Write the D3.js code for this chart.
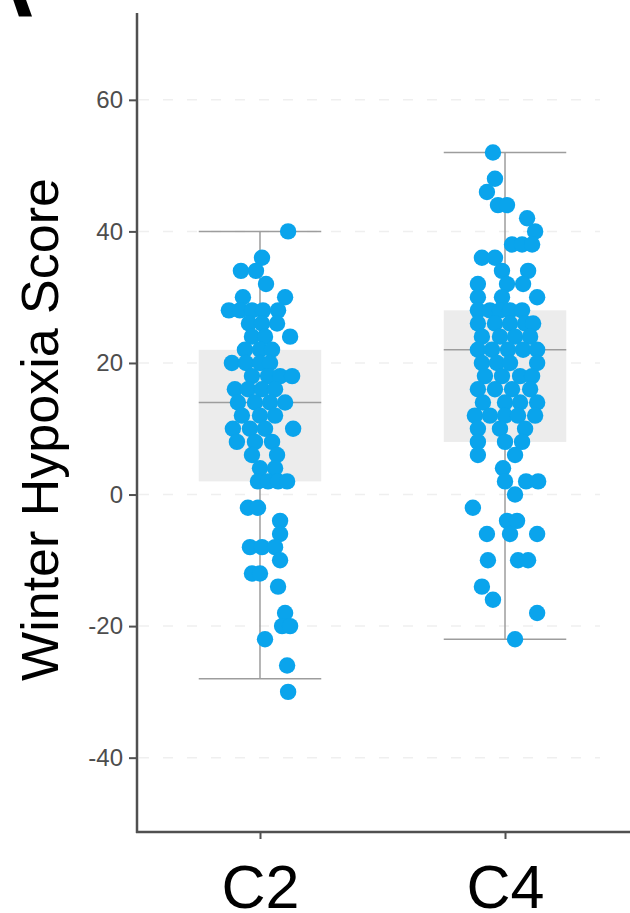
<!DOCTYPE html>
<html>
<head>
<meta charset="utf-8">
<script src="https://cdn.jsdelivr.net/npm/d3@7"></script>
<style>
  html, body { margin: 0; padding: 0; background: #fff; }
  svg { display: block; }
</style>
</head>
<body>
<svg id="chart" width="630" height="913"></svg>
<script>
// ---------------- data ----------------
const categories = ["C2", "C4"];
const yTickValues = [-40, -20, 0, 20, 40, 60];
const yTitle = "Winter Hypoxia Score";

// box statistics per category
const medians = [14, 22];
const q1s = [2, 8];
const q3s = [22, 28];
const whiskerLows = [-28, -22];
const whiskerHighs = [40, 52];

// individual scores (jitter: horizontal spread, +-61 = box edge)
const c2Values = [40,36,34,34,32,30,30,28,28,28,28,28,26,26,26,24,24,24,22,22,22,20,20,20,20,18,18,18,18,16,16,16,16,14,14,14,14,12,12,12,10,10,10,10,8,8,8,6,6,4,4,2,2,2,2,-2,-2,-4,-6,-8,-8,-8,-10,-12,-12,-14,-18,-20,-20,-22,-26,-30];
const c2Jitter = [28,2,-19,-4,6,-17,25,-31,-20,-8,3,18,-11,2,17,-8,5,30,-15,0,12,-28,-14,0,10,-8,8,20,32,-25,-12,2,15,-22,-5,10,25,-18,0,15,-27,-10,5,33,-23,-5,12,-8,17,0,15,-2,8,18,27,-12,-2,20,20,-10,2,15,20,-8,0,18,25,22,30,5,27,28];
const c4Values = [52,48,46,44,44,42,40,38,38,38,36,36,34,34,32,32,32,30,30,30,28,28,28,28,28,26,26,26,26,26,24,24,24,24,22,22,22,22,22,20,20,20,20,18,18,18,18,16,16,16,16,14,14,14,14,12,12,12,12,12,10,10,10,8,8,8,6,6,4,2,2,2,0,-2,-4,-4,-6,-6,-6,-10,-10,-10,-14,-16,-18,-22];
const c4Jitter = [-12,-10,-18,-7,2,22,30,7,17,27,-23,-10,-3,23,-27,2,18,-27,-3,32,-27,-15,-5,5,17,-27,-10,5,20,28,-23,-5,10,25,-27,-13,3,18,32,-23,-8,5,32,-20,-3,15,27,-27,-10,7,25,-22,0,15,32,-30,-15,0,13,30,-27,-5,20,-27,0,17,-27,10,-2,0,21,33,10,-32,2,12,-18,5,32,-17,13,23,-23,-12,32,10];

// ---------------- layout ----------------
const W = 630, H = 913;
const mLeft = 137, mRight = 628, mTop = 13, mBottom = 832;
const pointColor = "#0aa4ec";
const boxFill = "#ececec";
const lineGray = "#9d9d9d";
const axisColor = "#505050";

const svg = d3.select("#chart");

const y = d3.scaleLinear().domain([-51.3, 73.2]).range([mBottom, mTop]);
const x = d3.scalePoint().domain(categories).range([mLeft, mRight]).padding(0.502);
const boxHalf = x.step() * 0.25;
const jit = d3.scaleLinear().domain([-61, 61]).range([-boxHalf, boxHalf]);

const points = [
  ...c2Values.map((v, i) => ({ cat: "C2", v, j: c2Jitter[i] })),
  ...c4Values.map((v, i) => ({ cat: "C4", v, j: c4Jitter[i] }))
];
const stats = categories.map((c, i) => ({
  cat: c, med: medians[i], q1: q1s[i], q3: q3s[i], lo: whiskerLows[i], hi: whiskerHighs[i]
}));

// panel letter (cropped by the top edge)
svg.append("text")
  .attr("x", -32).attr("y", 16)
  .attr("font-family", "Liberation Sans, Arial, sans-serif")
  .attr("font-weight", "bold")
  .attr("font-size", 92)
  .attr("fill", "#000")
  .text("A");

// faint grid
svg.append("g").selectAll("line").data(yTickValues).join("line")
  .attr("x1", mLeft + 2).attr("x2", 600)
  .attr("y1", d => y(d)).attr("y2", d => y(d))
  .attr("stroke", "#efefef").attr("stroke-width", 1.5)
  .attr("stroke-dasharray", "10,14");

// boxes
const g = svg.append("g");
g.selectAll("rect.box").data(stats).join("rect")
  .attr("class", "box")
  .attr("x", d => x(d.cat) - boxHalf)
  .attr("width", boxHalf * 2)
  .attr("y", d => y(d.q3))
  .attr("height", d => y(d.q1) - y(d.q3))
  .attr("fill", boxFill);

// whiskers
g.selectAll("line.wup").data(stats).join("line")
  .attr("class", "wup")
  .attr("x1", d => x(d.cat)).attr("x2", d => x(d.cat))
  .attr("y1", d => y(d.hi)).attr("y2", d => y(d.q3))
  .attr("stroke", lineGray).attr("stroke-width", 1.5);
g.selectAll("line.wdn").data(stats).join("line")
  .attr("class", "wdn")
  .attr("x1", d => x(d.cat)).attr("x2", d => x(d.cat))
  .attr("y1", d => y(d.q1)).attr("y2", d => y(d.lo))
  .attr("stroke", lineGray).attr("stroke-width", 1.5);
["hi", "lo", "med"].forEach(k => {
  g.selectAll("line.cap" + k).data(stats).join("line")
    .attr("class", "cap" + k)
    .attr("x1", d => x(d.cat) - boxHalf).attr("x2", d => x(d.cat) + boxHalf)
    .attr("y1", d => y(d[k])).attr("y2", d => y(d[k]))
    .attr("stroke", lineGray).attr("stroke-width", 1.5);
});

// points
svg.append("g").selectAll("circle").data(points).join("circle")
  .attr("cx", d => x(d.cat) + jit(d.j))
  .attr("cy", d => y(d.v))
  .attr("r", 8.2)
  .attr("fill", pointColor);

// y axis
const yAxis = svg.append("g")
  .attr("transform", `translate(${mLeft},0)`)
  .call(d3.axisLeft(y).tickValues(yTickValues).tickSize(8).tickPadding(6).tickFormat(d => String(d)));
yAxis.select(".domain").remove();
yAxis.selectAll(".tick line").attr("stroke", axisColor).attr("stroke-width", 2);
yAxis.selectAll(".tick text")
  .attr("font-family", "Liberation Sans, Arial, sans-serif")
  .attr("font-size", 24)
  .attr("fill", "#4d4d4d");

// x axis
const xAxis = svg.append("g")
  .attr("transform", `translate(0,${mBottom})`)
  .call(d3.axisBottom(x).tickSize(7).tickPadding(0));
xAxis.select(".domain").remove();
xAxis.selectAll(".tick line").attr("stroke", axisColor).attr("stroke-width", 2);
xAxis.selectAll(".tick text")
  .attr("font-family", "Liberation Sans, Arial, sans-serif")
  .attr("font-size", 61)
  .attr("fill", "#000")
  .attr("y", 76).attr("dy", 0);

// axis lines
svg.append("line")
  .attr("x1", mLeft).attr("x2", mLeft).attr("y1", mTop).attr("y2", mBottom + 1)
  .attr("stroke", axisColor).attr("stroke-width", 2.5);
svg.append("line")
  .attr("x1", mLeft - 1).attr("x2", W).attr("y1", mBottom).attr("y2", mBottom)
  .attr("stroke", axisColor).attr("stroke-width", 2.5);

// y title
svg.append("text")
  .attr("transform", `translate(58,${(y(73.2) + y(-51.3)) / 2 + 7}) rotate(-90)`)
  .attr("text-anchor", "middle")
  .attr("font-family", "Liberation Sans, Arial, sans-serif")
  .attr("font-size", 52)
  .attr("fill", "#000")
  .text(yTitle);
</script>
</body>
</html>
